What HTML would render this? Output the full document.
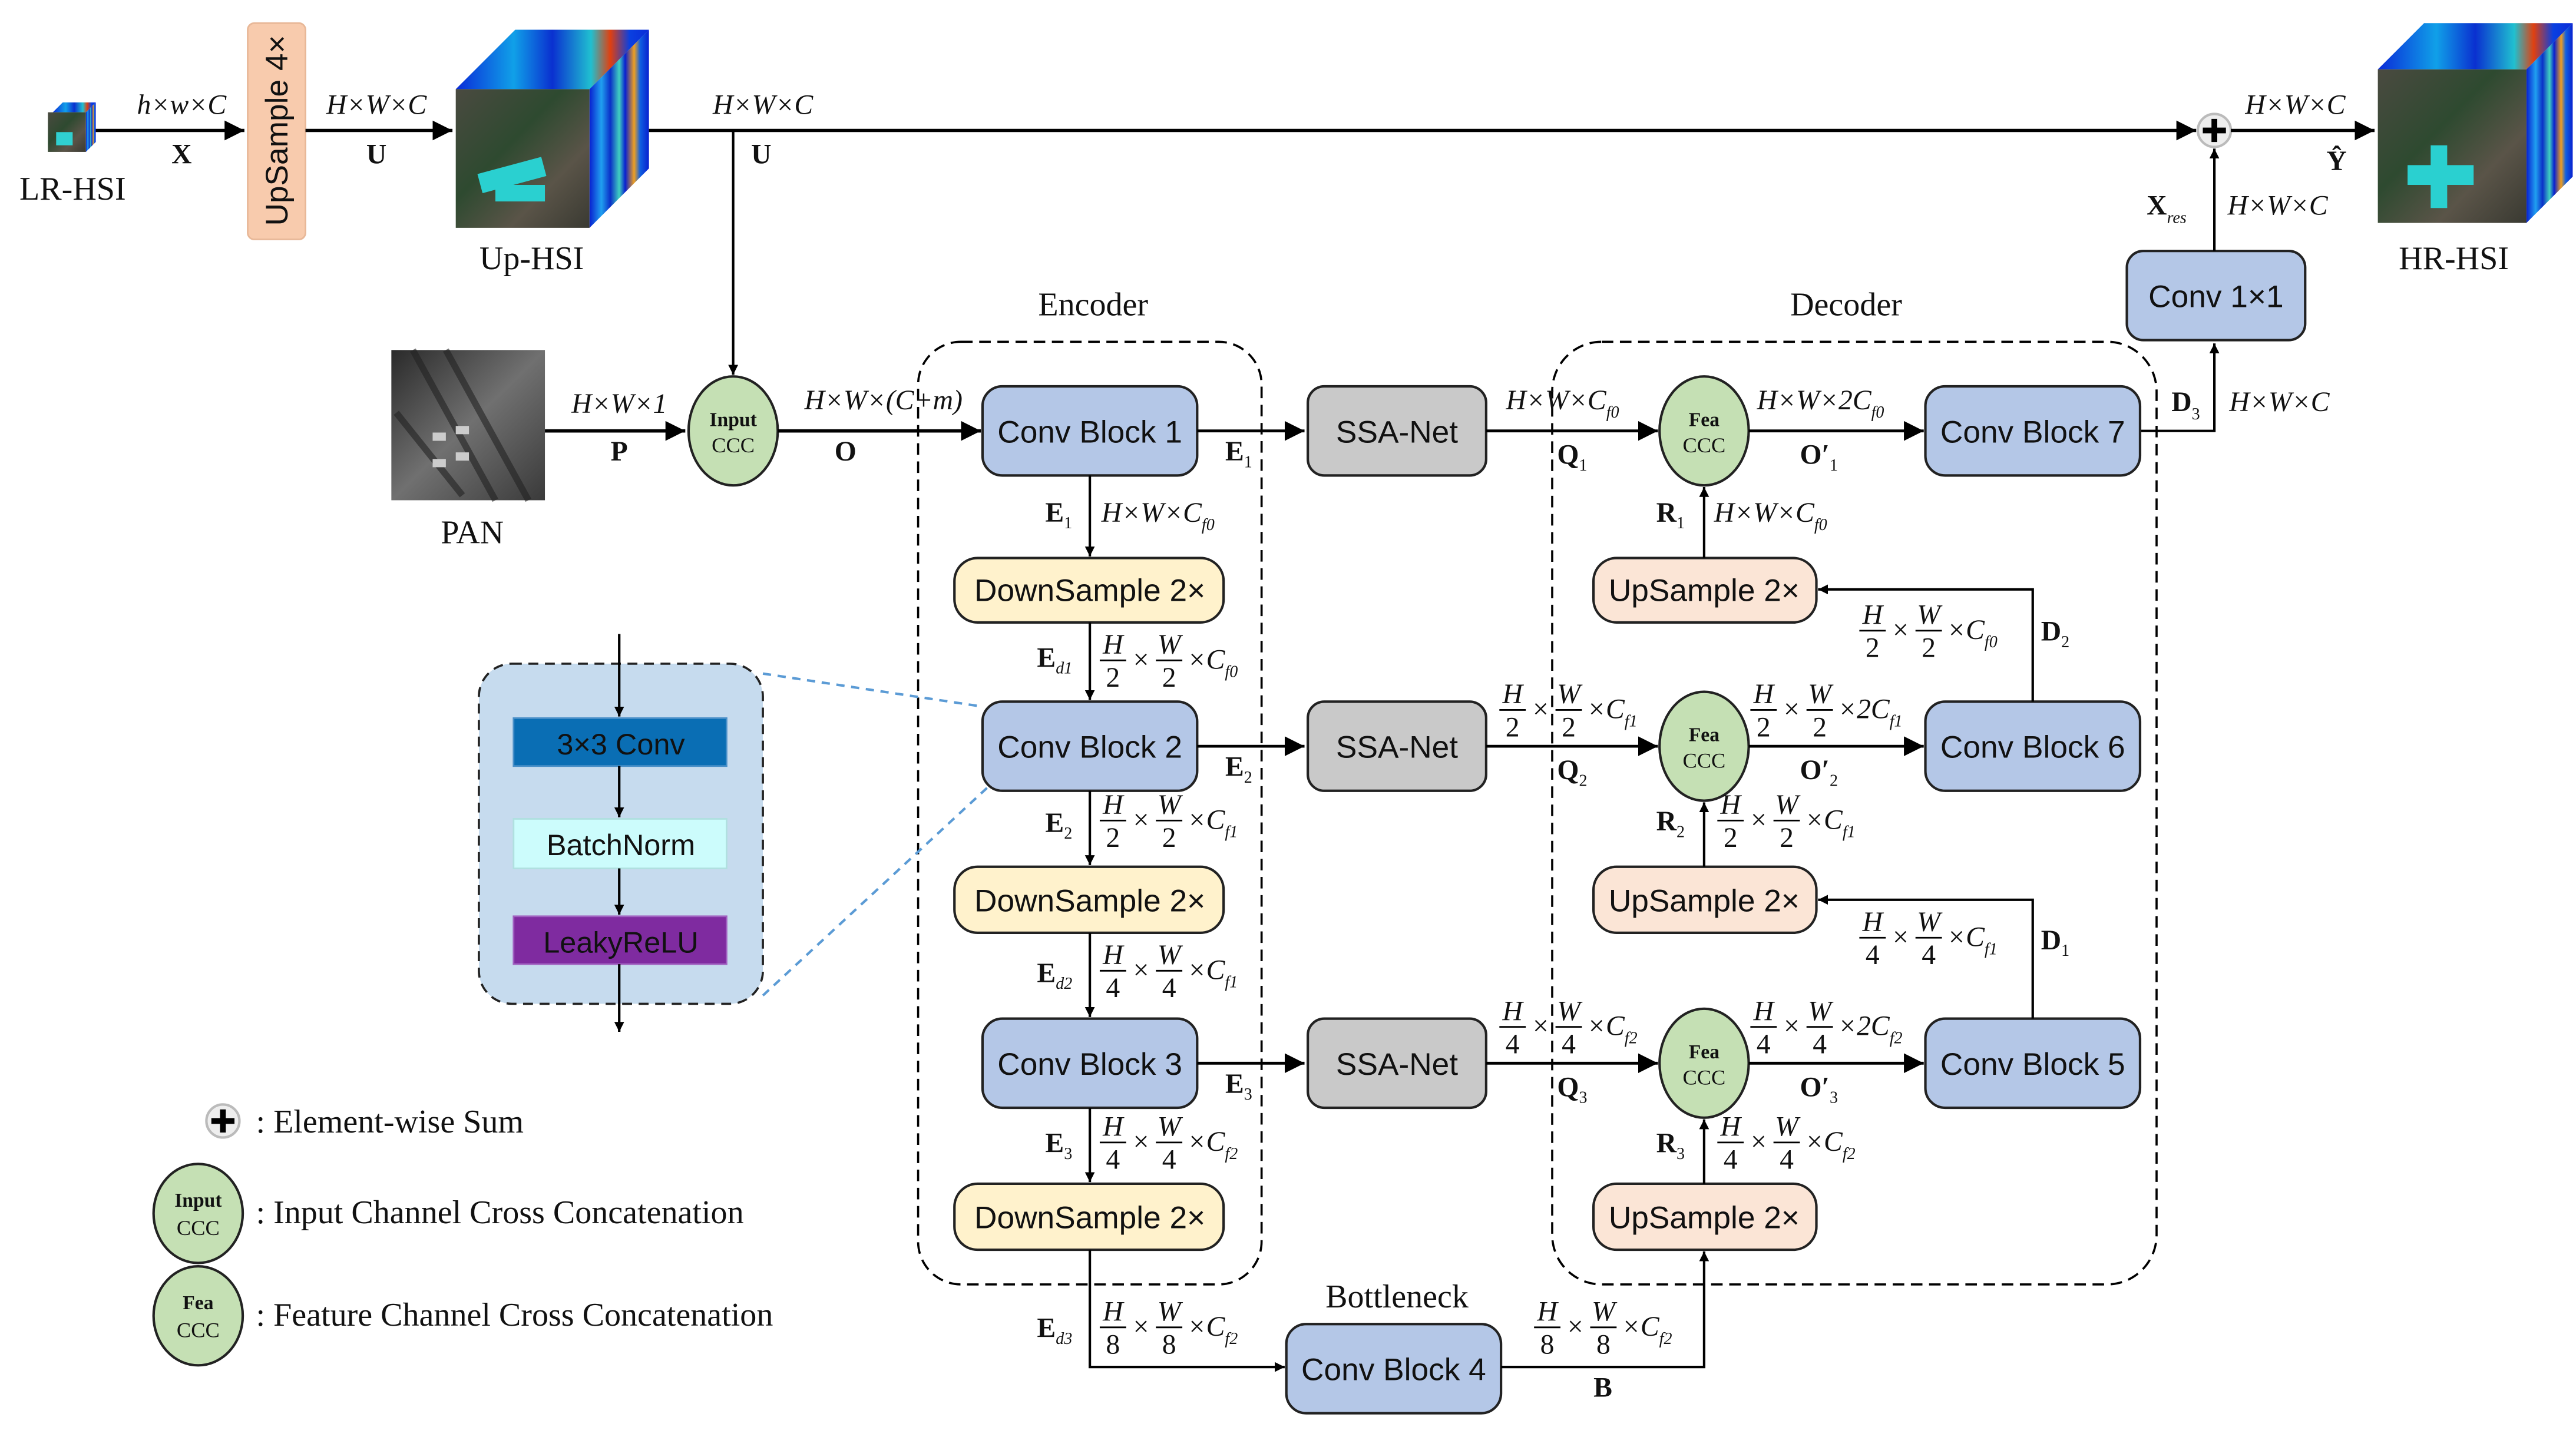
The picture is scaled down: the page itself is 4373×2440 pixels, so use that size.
<!DOCTYPE html>
<html><head><meta charset="utf-8"><style>
html,body{margin:0;padding:0;background:#fff}
svg{display:block}
.s{font-family:"Liberation Sans",sans-serif;font-size:19px;text-anchor:middle;fill:#111}
.t{font-family:"Liberation Serif",serif;font-size:20px;text-anchor:middle;fill:#111}
.m{font-family:"Liberation Serif",serif;font-style:italic;font-size:17px;fill:#111}
.r{font-family:"Liberation Serif",serif;font-size:17px;fill:#111}
.b{font-family:"Liberation Serif",serif;font-weight:bold;font-size:17px;fill:#111}
.sub{font-size:10px}
.c{text-anchor:middle}
.ln{stroke:#000;stroke-width:2;fill:none}
.fl{stroke:#000;stroke-width:1}
.bx{stroke:#222;stroke-width:1.5}
</style></head><body>
<svg width="4373" height="2440" viewBox="0 0 1560 870.4" xmlns="http://www.w3.org/2000/svg">
<defs>
<marker id="a" viewBox="0 0 10 10" refX="10" refY="5" markerWidth="6" markerHeight="6" orient="auto-start-reverse" markerUnits="userSpaceOnUse"><path d="M0,0 L10,5 L0,10 z" fill="#000"/></marker>
<marker id="a2" viewBox="0 0 10 10" refX="10" refY="5" markerWidth="12" markerHeight="12" orient="auto" markerUnits="userSpaceOnUse"><path d="M0,0 L10,5 L0,10 z" fill="#000"/></marker>
<linearGradient id="top" x1="0" y1="0" x2="1" y2="0">
<stop offset="0" stop-color="#0a2bd8"/><stop offset=".3" stop-color="#10a0e8"/><stop offset=".5" stop-color="#0a30d0"/><stop offset=".7" stop-color="#20c0d0"/><stop offset=".8" stop-color="#e04010"/><stop offset=".9" stop-color="#0a40e0"/><stop offset="1" stop-color="#0a2bd8"/></linearGradient>
<linearGradient id="side" x1="0" y1="0" x2="1" y2="0">
<stop offset="0" stop-color="#0820d0"/><stop offset=".2" stop-color="#20a0f0"/><stop offset=".35" stop-color="#0a30c8"/><stop offset=".5" stop-color="#40d0c0"/><stop offset=".6" stop-color="#0820d0"/><stop offset=".75" stop-color="#f0a020"/><stop offset=".85" stop-color="#1060e0"/><stop offset="1" stop-color="#0820d0"/></linearGradient>
<linearGradient id="front" x1="0" y1="0" x2="1" y2="1">
<stop offset="0" stop-color="#4a4a40"/><stop offset=".4" stop-color="#2e4a30"/><stop offset=".7" stop-color="#5a5448"/><stop offset="1" stop-color="#3a3a32"/></linearGradient>
<linearGradient id="pan" x1="0" y1="0" x2="1" y2="1">
<stop offset="0" stop-color="#2a2a2a"/><stop offset=".5" stop-color="#707070"/><stop offset="1" stop-color="#3a3a3a"/></linearGradient>
</defs>

<!-- top row -->
<g>
<polygon points="32,68 38,62 58,62 52,68" fill="url(#top)"/>
<polygon points="52,68 58,62 58,86 52,92" fill="url(#side)"/>
<rect x="29" y="68" width="23" height="24" fill="url(#front)"/>
<rect x="34" y="80" width="10" height="8" fill="#30d0d0"/>
</g>
<text class="t" x="44" y="121">LR-HSI</text>
<line class="ln" x1="58" y1="79" x2="148" y2="79" marker-end="url(#a2)"/>
<text class="m c" x="110" y="69">h×w×C</text>
<text class="b c" x="110" y="99">X</text>
<rect x="150" y="14" width="35" height="131" rx="4" fill="#f8cbad" stroke="#e8b898" stroke-width="1"/>
<text class="s" transform="translate(174,79) rotate(-90)" x="0" y="0" style="font-size:19px">UpSample 4×</text>
<line class="ln" x1="185" y1="79" x2="274" y2="79" marker-end="url(#a2)"/>
<text class="m c" x="228" y="69">H×W×C</text>
<text class="b c" x="228" y="99">U</text>
<!-- Up-HSI cube -->
<polygon points="276,54 312,18 393,18 357,54" fill="url(#top)"/>
<polygon points="357,54 393,18 393,102 357,138" fill="url(#side)"/>
<rect x="276" y="54" width="81" height="84" fill="url(#front)"/>
<rect x="290" y="100" width="40" height="12" fill="#2ad0d0" transform="rotate(-15 310 106)"/>
<rect x="300" y="112" width="30" height="10" fill="#2ad0d0"/>
<text class="t" x="322" y="163">Up-HSI</text>
<line class="ln" x1="393" y1="79" x2="1330" y2="79" marker-end="url(#a2)"/>
<text class="m c" x="462" y="69">H×W×C</text>
<text class="b c" x="461" y="99">U</text>
<line class="ln" x1="444" y1="79" x2="444" y2="227" style="stroke-width:1.5" marker-end="url(#a)"/>
<circle cx="1341" cy="79" r="10" fill="#eee" stroke="#bbb" stroke-width="1.5"/>
<path d="M1341,72 V86 M1334,79 H1348" stroke="#000" stroke-width="3.5"/>
<line class="ln" x1="1351" y1="79" x2="1438" y2="79" marker-end="url(#a2)"/>
<text class="m c" x="1390" y="69">H×W×C</text>
<text class="b c" x="1415" y="103">Ŷ</text>
<!-- HR-HSI -->
<polygon points="1440,42 1468,14 1558,14 1530,42" fill="url(#top)"/>
<polygon points="1530,42 1558,14 1558,107 1530,135" fill="url(#side)"/>
<rect x="1440" y="42" width="90" height="93" fill="url(#front)"/>
<rect x="1458" y="100" width="40" height="12" fill="#2ad0d0"/>
<rect x="1472" y="88" width="10" height="38" fill="#2ad0d0"/>
<text class="t" x="1486" y="163">HR-HSI</text>
<rect class="bx" x="1288" y="152" width="108" height="54" rx="10" fill="#b4c7e7"/>
<text class="s" x="1342" y="186">Conv 1×1</text>
<line class="ln" x1="1341" y1="152" x2="1341" y2="90" style="stroke-width:1.5" marker-end="url(#a)"/>
<text class="b" x="1300" y="130">X<tspan class="sub" font-style="italic" font-weight="normal" dy="5">res</tspan></text>
<text class="m" x="1349" y="130">H×W×C</text>
<polyline class="ln" points="1296,261 1341,261 1341,208" style="stroke-width:1.5" marker-end="url(#a)"/>
<text class="b" x="1315" y="249">D<tspan class="sub" font-weight="normal" dy="5">3</tspan></text>
<text class="m" x="1350" y="249">H×W×C</text>

<!-- groups -->
<text class="t" x="662" y="191">Encoder</text>
<rect x="556" y="207" width="208" height="571" rx="26" fill="none" stroke="#000" stroke-width="1.3" stroke-dasharray="7,4"/>
<text class="t" x="1118" y="191">Decoder</text>
<rect x="940" y="207" width="366" height="571" rx="30" fill="none" stroke="#000" stroke-width="1.3" stroke-dasharray="7,4"/>

<!-- PAN -->
<rect x="237" y="212" width="93" height="91" fill="url(#pan)"/>
<g stroke="#222" stroke-width="4" opacity=".6"><line x1="250" y1="212" x2="300" y2="303"/><line x1="270" y1="212" x2="320" y2="303"/><line x1="240" y1="250" x2="280" y2="300"/></g>
<g fill="#ccc"><rect x="262" y="262" width="8" height="5"/><rect x="276" y="258" width="8" height="5"/><rect x="262" y="278" width="8" height="5"/><rect x="276" y="274" width="8" height="5"/></g>
<text class="t" x="286" y="329">PAN</text>
<line class="ln" x1="330" y1="261" x2="415" y2="261" marker-end="url(#a2)"/>
<text class="m c" x="375" y="250">H×W×1</text>
<text class="b c" x="375" y="279">P</text>
<ellipse cx="444" cy="261" rx="27" ry="33" fill="#c5e0b4" stroke="#222" stroke-width="1.5"/>
<text class="b c" x="444" y="258" style="font-size:12px">Input</text>
<text class="r c" x="444" y="274" style="font-size:13px">CCC</text>
<line class="ln" x1="471" y1="261" x2="594" y2="261" marker-end="url(#a2)"/>
<text class="m c" x="535" y="248">H×W×(C+m)</text>
<text class="b c" x="512" y="279">O</text>

<!-- encoder blocks -->
<g class="bx" fill="#b4c7e7">
<rect x="595" y="234" width="130" height="54" rx="12"/>
<rect x="595" y="425" width="130" height="54" rx="12"/>
<rect x="595" y="617" width="130" height="54" rx="12"/>
<rect x="779" y="802" width="130" height="54" rx="12"/>
<rect x="1166" y="234" width="130" height="54" rx="12"/>
<rect x="1166" y="425" width="130" height="54" rx="12"/>
<rect x="1166" y="617" width="130" height="54" rx="12"/>
</g>
<g class="bx" fill="#fff2cc">
<rect x="578" y="338" width="163" height="39" rx="14"/>
<rect x="578" y="525" width="163" height="40" rx="14"/>
<rect x="578" y="717" width="163" height="40" rx="14"/>
</g>
<g class="bx" fill="#fbe5d6">
<rect x="965" y="338" width="135" height="39" rx="14"/>
<rect x="965" y="525" width="135" height="40" rx="14"/>
<rect x="965" y="717" width="135" height="40" rx="14"/>
</g>
<g class="bx" fill="#c9c9c9">
<rect x="792" y="234" width="108" height="54" rx="10"/>
<rect x="792" y="425" width="108" height="54" rx="10"/>
<rect x="792" y="617" width="108" height="54" rx="10"/>
</g>
<text class="s" x="660" y="268">Conv Block 1</text>
<text class="s" x="660" y="459">Conv Block 2</text>
<text class="s" x="660" y="651">Conv Block 3</text>
<text class="s" x="844" y="836">Conv Block 4</text>
<text class="s" x="1231" y="268">Conv Block 7</text>
<text class="s" x="1231" y="459">Conv Block 6</text>
<text class="s" x="1231" y="651">Conv Block 5</text>
<text class="s" x="660" y="364">DownSample 2×</text>
<text class="s" x="660" y="552">DownSample 2×</text>
<text class="s" x="660" y="744">DownSample 2×</text>
<text class="s" x="1032" y="364">UpSample 2×</text>
<text class="s" x="1032" y="552">UpSample 2×</text>
<text class="s" x="1032" y="744">UpSample 2×</text>
<text class="s" x="846" y="268">SSA-Net</text>
<text class="s" x="846" y="459">SSA-Net</text>
<text class="s" x="846" y="651">SSA-Net</text>
<text class="t" x="846" y="792">Bottleneck</text>

<!-- Fea CCC -->
<g fill="#c5e0b4" stroke="#222" stroke-width="1.5">
<ellipse cx="1032" cy="261" rx="27" ry="33"/>
<ellipse cx="1032" cy="452" rx="27" ry="33"/>
<ellipse cx="1032" cy="644" rx="27" ry="33"/>
</g>
<g class="r c" style="font-size:13px">
<text x="1032" y="258" font-weight="bold" style="font-size:12px">Fea</text><text x="1032" y="274">CCC</text>
<text x="1032" y="449" font-weight="bold" style="font-size:12px">Fea</text><text x="1032" y="465">CCC</text>
<text x="1032" y="641" font-weight="bold" style="font-size:12px">Fea</text><text x="1032" y="657">CCC</text>
</g>

<!-- horizontal arrows -->
<g class="ln" style="stroke-width:1.7">
<line x1="725" y1="261" x2="790" y2="261" marker-end="url(#a2)"/>
<line x1="725" y1="452" x2="790" y2="452" marker-end="url(#a2)"/>
<line x1="725" y1="644" x2="790" y2="644" marker-end="url(#a2)"/>
<line x1="900" y1="261" x2="1004" y2="261" marker-end="url(#a2)"/>
<line x1="900" y1="452" x2="1004" y2="452" marker-end="url(#a2)"/>
<line x1="900" y1="644" x2="1004" y2="644" marker-end="url(#a2)"/>
<line x1="1059" y1="261" x2="1165" y2="261" marker-end="url(#a2)"/>
<line x1="1059" y1="452" x2="1165" y2="452" marker-end="url(#a2)"/>
<line x1="1059" y1="644" x2="1165" y2="644" marker-end="url(#a2)"/>
</g>
<!-- vertical arrows -->
<g class="ln" style="stroke-width:1.5">
<line x1="660" y1="288" x2="660" y2="337" marker-end="url(#a)"/>
<line x1="660" y1="377" x2="660" y2="424" marker-end="url(#a)"/>
<line x1="660" y1="479" x2="660" y2="524" marker-end="url(#a)"/>
<line x1="660" y1="565" x2="660" y2="616" marker-end="url(#a)"/>
<line x1="660" y1="671" x2="660" y2="716" marker-end="url(#a)"/>
<polyline points="660,757 660,828 778,828" marker-end="url(#a)"/>
<polyline points="909,828 1032,828 1032,758" marker-end="url(#a)"/>
<line x1="1032" y1="338" x2="1032" y2="295" marker-end="url(#a)"/>
<line x1="1032" y1="525" x2="1032" y2="486" marker-end="url(#a)"/>
<line x1="1032" y1="717" x2="1032" y2="678" marker-end="url(#a)"/>
<polyline points="1231,425 1231,357 1101,357" marker-end="url(#a)"/>
<polyline points="1231,617 1231,545 1101,545" marker-end="url(#a)"/>
</g>

<!-- simple labels -->
<g class="b">
<text x="742" y="279">E<tspan class="sub" font-weight="normal" dy="4">1</tspan></text>
<text x="742" y="470">E<tspan class="sub" font-weight="normal" dy="4">2</tspan></text>
<text x="742" y="662">E<tspan class="sub" font-weight="normal" dy="4">3</tspan></text>
<text x="633" y="316">E<tspan class="sub" font-weight="normal" dy="4">1</tspan></text>
<text x="633" y="504">E<tspan class="sub" font-weight="normal" dy="4">2</tspan></text>
<text x="633" y="698">E<tspan class="sub" font-weight="normal" dy="4">3</tspan></text>
<text x="628" y="404">E<tspan class="sub" font-style="italic" font-weight="normal" dy="4">d1</tspan></text>
<text x="628" y="595">E<tspan class="sub" font-style="italic" font-weight="normal" dy="4">d2</tspan></text>
<text x="628" y="810">E<tspan class="sub" font-style="italic" font-weight="normal" dy="4">d3</tspan></text>
<text x="943" y="281">Q<tspan class="sub" font-weight="normal" dy="4">1</tspan></text>
<text x="943" y="472">Q<tspan class="sub" font-weight="normal" dy="4">2</tspan></text>
<text x="943" y="664">Q<tspan class="sub" font-weight="normal" dy="4">3</tspan></text>
<text x="1090" y="281">O′<tspan class="sub" font-weight="normal" dy="4">1</tspan></text>
<text x="1090" y="472">O′<tspan class="sub" font-weight="normal" dy="4">2</tspan></text>
<text x="1090" y="664">O′<tspan class="sub" font-weight="normal" dy="4">3</tspan></text>
<text x="1003" y="316">R<tspan class="sub" font-weight="normal" dy="4">1</tspan></text>
<text x="1003" y="503">R<tspan class="sub" font-weight="normal" dy="4">2</tspan></text>
<text x="1003" y="698">R<tspan class="sub" font-weight="normal" dy="4">3</tspan></text>
<text x="1236" y="388">D<tspan class="sub" font-weight="normal" dy="4">2</tspan></text>
<text x="1236" y="575">D<tspan class="sub" font-weight="normal" dy="4">1</tspan></text>
<text x="965" y="846">B</text>
</g>
<text class="m" x="667" y="316">H×W×C<tspan class="sub" dy="5">f0</tspan></text>
<text class="m" x="1038" y="316">H×W×C<tspan class="sub" dy="5">f0</tspan></text>
<text class="m" x="912" y="248">H×W×C<tspan class="sub" dy="5">f0</tspan></text>
<text class="m" x="1064" y="248">H×W×2C<tspan class="sub" dy="5">f0</tspan></text>

<!-- fraction labels -->
<g id="fr">
<g transform="translate(666,400)"><g class="m c"><text x="8" y="-4">H</text><text x="42" y="-4">W</text></g><g class="r c"><text x="8" y="16">2</text><text x="42" y="16">2</text><text x="25" y="5">×</text></g><path d="M0,0H16M34,0H50" stroke="#000"/><text class="m" x="53" y="5">×C<tspan class="sub" dy="5">f0</tspan></text></g>
<g transform="translate(666,497)"><g class="m c"><text x="8" y="-4">H</text><text x="42" y="-4">W</text></g><g class="r c"><text x="8" y="16">2</text><text x="42" y="16">2</text><text x="25" y="5">×</text></g><path d="M0,0H16M34,0H50" stroke="#000"/><text class="m" x="53" y="5">×C<tspan class="sub" dy="5">f1</tspan></text></g>
<g transform="translate(666,588)"><g class="m c"><text x="8" y="-4">H</text><text x="42" y="-4">W</text></g><g class="r c"><text x="8" y="16">4</text><text x="42" y="16">4</text><text x="25" y="5">×</text></g><path d="M0,0H16M34,0H50" stroke="#000"/><text class="m" x="53" y="5">×C<tspan class="sub" dy="5">f1</tspan></text></g>
<g transform="translate(666,692)"><g class="m c"><text x="8" y="-4">H</text><text x="42" y="-4">W</text></g><g class="r c"><text x="8" y="16">4</text><text x="42" y="16">4</text><text x="25" y="5">×</text></g><path d="M0,0H16M34,0H50" stroke="#000"/><text class="m" x="53" y="5">×C<tspan class="sub" dy="5">f2</tspan></text></g>
<g transform="translate(666,804)"><g class="m c"><text x="8" y="-4">H</text><text x="42" y="-4">W</text></g><g class="r c"><text x="8" y="16">8</text><text x="42" y="16">8</text><text x="25" y="5">×</text></g><path d="M0,0H16M34,0H50" stroke="#000"/><text class="m" x="53" y="5">×C<tspan class="sub" dy="5">f2</tspan></text></g>
<g transform="translate(929,804)"><g class="m c"><text x="8" y="-4">H</text><text x="42" y="-4">W</text></g><g class="r c"><text x="8" y="16">8</text><text x="42" y="16">8</text><text x="25" y="5">×</text></g><path d="M0,0H16M34,0H50" stroke="#000"/><text class="m" x="53" y="5">×C<tspan class="sub" dy="5">f2</tspan></text></g>
<g transform="translate(908,430)"><g class="m c"><text x="8" y="-4">H</text><text x="42" y="-4">W</text></g><g class="r c"><text x="8" y="16">2</text><text x="42" y="16">2</text><text x="25" y="5">×</text></g><path d="M0,0H16M34,0H50" stroke="#000"/><text class="m" x="53" y="5">×C<tspan class="sub" dy="5">f1</tspan></text></g>
<g transform="translate(908,622)"><g class="m c"><text x="8" y="-4">H</text><text x="42" y="-4">W</text></g><g class="r c"><text x="8" y="16">4</text><text x="42" y="16">4</text><text x="25" y="5">×</text></g><path d="M0,0H16M34,0H50" stroke="#000"/><text class="m" x="53" y="5">×C<tspan class="sub" dy="5">f2</tspan></text></g>
<g transform="translate(1060,430)"><g class="m c"><text x="8" y="-4">H</text><text x="42" y="-4">W</text></g><g class="r c"><text x="8" y="16">2</text><text x="42" y="16">2</text><text x="25" y="5">×</text></g><path d="M0,0H16M34,0H50" stroke="#000"/><text class="m" x="53" y="5">×2C<tspan class="sub" dy="5">f1</tspan></text></g>
<g transform="translate(1060,622)"><g class="m c"><text x="8" y="-4">H</text><text x="42" y="-4">W</text></g><g class="r c"><text x="8" y="16">4</text><text x="42" y="16">4</text><text x="25" y="5">×</text></g><path d="M0,0H16M34,0H50" stroke="#000"/><text class="m" x="53" y="5">×2C<tspan class="sub" dy="5">f2</tspan></text></g>
<g transform="translate(1040,497)"><g class="m c"><text x="8" y="-4">H</text><text x="42" y="-4">W</text></g><g class="r c"><text x="8" y="16">2</text><text x="42" y="16">2</text><text x="25" y="5">×</text></g><path d="M0,0H16M34,0H50" stroke="#000"/><text class="m" x="53" y="5">×C<tspan class="sub" dy="5">f1</tspan></text></g>
<g transform="translate(1040,692)"><g class="m c"><text x="8" y="-4">H</text><text x="42" y="-4">W</text></g><g class="r c"><text x="8" y="16">4</text><text x="42" y="16">4</text><text x="25" y="5">×</text></g><path d="M0,0H16M34,0H50" stroke="#000"/><text class="m" x="53" y="5">×C<tspan class="sub" dy="5">f2</tspan></text></g>
<g transform="translate(1126,382)"><g class="m c"><text x="8" y="-4">H</text><text x="42" y="-4">W</text></g><g class="r c"><text x="8" y="16">2</text><text x="42" y="16">2</text><text x="25" y="5">×</text></g><path d="M0,0H16M34,0H50" stroke="#000"/><text class="m" x="53" y="5">×C<tspan class="sub" dy="5">f0</tspan></text></g>
<g transform="translate(1126,568)"><g class="m c"><text x="8" y="-4">H</text><text x="42" y="-4">W</text></g><g class="r c"><text x="8" y="16">4</text><text x="42" y="16">4</text><text x="25" y="5">×</text></g><path d="M0,0H16M34,0H50" stroke="#000"/><text class="m" x="53" y="5">×C<tspan class="sub" dy="5">f1</tspan></text></g>
</g>

<!-- inset -->
<rect x="290" y="402" width="172" height="206" rx="20" fill="#c6dbee" stroke="#222" stroke-width="1.3" stroke-dasharray="6,4"/>
<line x1="462" y1="408" x2="595" y2="428" stroke="#5b9bd5" stroke-width="1.5" stroke-dasharray="5,4"/>
<line x1="462" y1="603" x2="598" y2="477" stroke="#5b9bd5" stroke-width="1.5" stroke-dasharray="5,4"/>
<rect x="311" y="435" width="129" height="29" fill="#0a6eb4" stroke="#4a90c8"/>
<rect x="311" y="496" width="129" height="30" fill="#ccfcfc" stroke="#b0e0e0"/>
<rect x="311" y="555" width="129" height="29" fill="#7f2ba0" stroke="#a060c0"/>
<text class="s" x="376" y="457" style="font-size:18px">3×3 Conv</text>
<text class="s" x="376" y="518" style="font-size:18px">BatchNorm</text>
<text class="s" x="376" y="577" style="font-size:18px">LeakyReLU</text>
<g class="ln" style="stroke-width:1.5">
<line x1="375" y1="384" x2="375" y2="434" marker-end="url(#a)"/>
<line x1="375" y1="464" x2="375" y2="495" marker-end="url(#a)"/>
<line x1="375" y1="526" x2="375" y2="554" marker-end="url(#a)"/>
<line x1="375" y1="584" x2="375" y2="625" marker-end="url(#a)"/>
</g>

<!-- legend -->
<circle cx="135" cy="679" r="10" fill="#eee" stroke="#bbb" stroke-width="1.5"/>
<path d="M135,672 V686 M128,679 H142" stroke="#000" stroke-width="3.5"/>
<text class="t" x="155" y="686" style="text-anchor:start">: Element-wise Sum</text>
<ellipse cx="120" cy="735" rx="27" ry="30" fill="#c5e0b4" stroke="#222" stroke-width="1.5"/>
<text class="b c" x="120" y="731" style="font-size:12px">Input</text>
<text class="r c" x="120" y="748" style="font-size:13px">CCC</text>
<text class="t" x="155" y="741" style="text-anchor:start">: Input Channel Cross Concatenation</text>
<ellipse cx="120" cy="797" rx="27" ry="30" fill="#c5e0b4" stroke="#222" stroke-width="1.5"/>
<text class="b c" x="120" y="793" style="font-size:12px">Fea</text>
<text class="r c" x="120" y="810" style="font-size:13px">CCC</text>
<text class="t" x="155" y="803" style="text-anchor:start">: Feature Channel Cross Concatenation</text>
</svg>
</body></html>
